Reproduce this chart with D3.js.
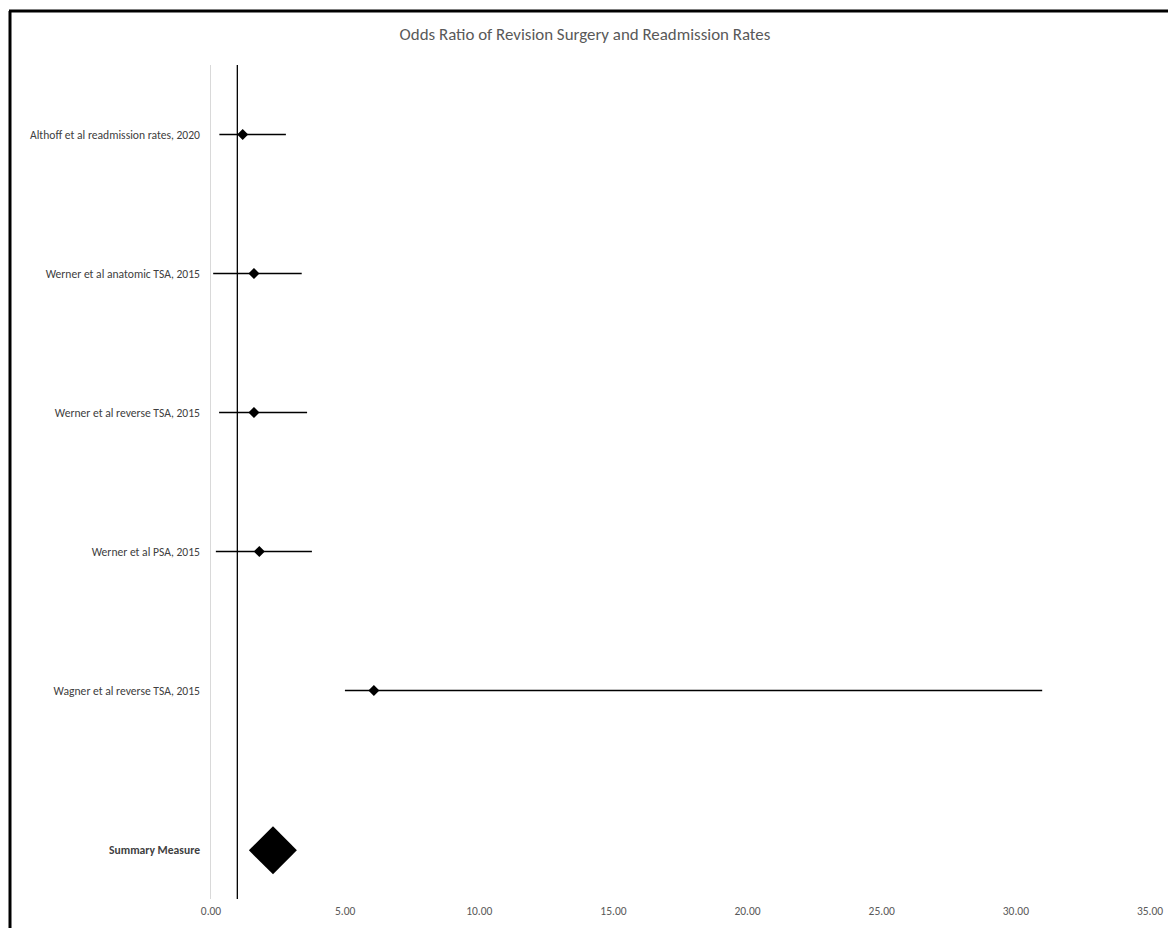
<!DOCTYPE html>
<html>
<head>
<meta charset="utf-8">
<script src="https://cdn.jsdelivr.net/npm/d3@7/dist/d3.min.js"></script>
<style>
  html, body { margin: 0; padding: 0; background: #fff; }
  svg { display: block; }
</style>
</head>
<body>
<svg id="chart" width="1168" height="928"></svg>
<script>
// ---- data ----
const studies = [
  "Althoff et al readmission rates, 2020",
  "Werner et al anatomic TSA, 2015",
  "Werner et al reverse TSA, 2015",
  "Werner et al PSA, 2015",
  "Wagner et al reverse TSA, 2015"
];
const oddsRatios = [1.20, 1.62, 1.62, 1.82, 6.09];
const lowerCI   = [0.33, 0.10, 0.32, 0.20, 5.01];
const upperCI   = [2.81, 3.40, 3.60, 3.78, 31.0];
const rowY      = [5.5, 4.5, 3.5, 2.5, 1.5];
const summaryLabel = "Summary Measure";
const summaryOR = 2.33;
const summaryLower = 1.43;
const summaryUpper = 3.22;
const summaryY = 0.35;
const xTicks = [0, 5, 10, 15, 20, 25, 30, 35];
const noEffect = 1;
const title = "Odds Ratio of Revision Surgery and Readmission Rates";

// ---- layout ----
const svg = d3.select("#chart");
const font = "Carlito, Calibri, 'Liberation Sans Narrow', Lato, sans-serif";

// frame
svg.append("line").attr("x1", 10).attr("x2", 10).attr("y1", 11).attr("y2", 928)
  .attr("stroke", "#000").attr("stroke-width", 3);
svg.append("line").attr("x1", 9).attr("x2", 1168).attr("y1", 11).attr("y2", 11)
  .attr("stroke", "#000").attr("stroke-width", 3);

const x = d3.scaleLinear().domain([0, 35]).range([210.5, 1149.5]);
const y = d3.scaleLinear().domain([0, 6]).range([899, 65]);

// title
svg.append("text").attr("x", 585).attr("y", 40)
  .attr("text-anchor", "middle")
  .attr("font-family", font).attr("font-size", 16.9)
  .attr("fill", "#595959").text(title);

// vertical axis (gray line at 0)
svg.append("line").attr("x1", x(0)).attr("x2", x(0)).attr("y1", y(6)).attr("y2", y(0))
  .attr("stroke", "#d9d9d9").attr("stroke-width", 1);

// x tick labels
const xAxis = d3.axisBottom(x).tickValues(xTicks).tickFormat(d3.format(".2f")).tickSize(0).tickPadding(8);
const gx = svg.append("g").attr("transform", `translate(0,${y(0)})`).call(xAxis);
gx.select(".domain").remove();
gx.selectAll("text").attr("font-family", font).attr("font-size", 11.5).attr("fill", "#595959");

// no-effect line
svg.append("line").attr("x1", x(noEffect)).attr("x2", x(noEffect)).attr("y1", y(6)).attr("y2", y(0))
  .attr("stroke", "#000").attr("stroke-width", 1.3);

// study rows
const rows = studies.map((s, i) => ({ s, or: oddsRatios[i], lo: lowerCI[i], hi: upperCI[i], y: rowY[i] }));
const g = svg.append("g");
g.selectAll("line.ci").data(rows).join("line").attr("class", "ci")
  .attr("x1", d => x(d.lo)).attr("x2", d => x(d.hi))
  .attr("y1", d => y(d.y)).attr("y2", d => y(d.y))
  .attr("stroke", "#000").attr("stroke-width", 1.6);
g.selectAll("path.pt").data(rows).join("path").attr("class", "pt")
  .attr("d", d => { const cx = x(d.or), cy = y(d.y), r = 5.5;
    return `M${cx},${cy - r}L${cx + r},${cy}L${cx},${cy + r}L${cx - r},${cy}Z`; })
  .attr("fill", "#000");
g.selectAll("text.lbl").data(rows).join("text").attr("class", "lbl")
  .attr("x", 200).attr("y", d => y(d.y)).attr("dy", "0.35em")
  .attr("text-anchor", "end").attr("font-family", font).attr("font-size", 11.6)
  .attr("fill", "#404040").text(d => d.s);

// summary diamond
const sx0 = x(summaryLower), sx1 = x(summaryUpper), sc = x(summaryOR), sy = y(summaryY);
const sh = (sx1 - sx0) / 2;
svg.append("path")
  .attr("d", `M${sc},${sy - sh}L${sx1},${sy}L${sc},${sy + sh}L${sx0},${sy}Z`)
  .attr("fill", "#000");
svg.append("text").attr("x", 200).attr("y", sy).attr("dy", "0.35em")
  .attr("text-anchor", "end").attr("font-family", font).attr("font-size", 11.6)
  .attr("font-weight", "bold").attr("fill", "#404040").text(summaryLabel);
</script>
</body>
</html>
